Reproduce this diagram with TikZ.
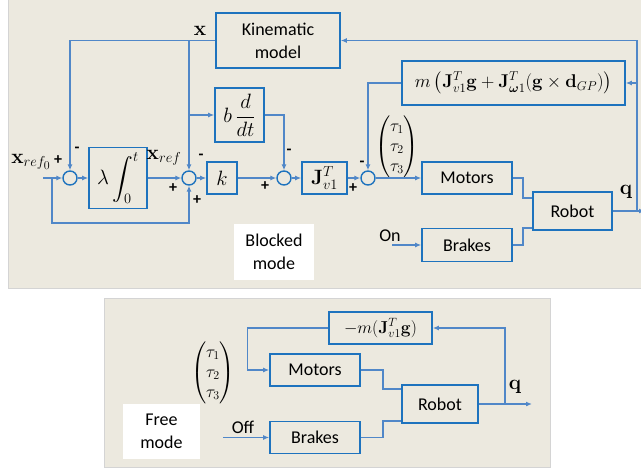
\documentclass[tikz,border=0pt]{standalone}
\usepackage{amsmath}
\usepackage[no-math]{fontspec}
\setmainfont{Carlito}
\DeclareMathSizes{18}{20.74}{14.4}{12}
\usetikzlibrary{arrows.meta,calc}
\definecolor{panelbg}{RGB}{236,233,223}
\definecolor{panelrule}{RGB}{212,212,212}
\definecolor{boxblue}{RGB}{30,115,190}
\definecolor{wireblue}{RGB}{80,135,200}

\begin{document}
\begin{tikzpicture}[x=1pt,y=-1pt,font=\fontsize{18}{23}\selectfont,
  blk/.style={draw=boxblue,line width=1.6pt,fill=panelbg,inner sep=0pt,align=center},
  sumc/.style={circle,draw=boxblue,line width=1.4pt,fill=panelbg,minimum size=14pt,inner sep=0pt},
  wire/.style={draw=wireblue,line width=1.4pt,-{Latex[length=6pt,width=5pt]}},
  link/.style={draw=wireblue,line width=1.4pt},
  tag/.style={inner sep=0pt},
  smallmath/.style={font=\fontsize{17.28}{20}\selectfont},
  sgn/.style={font=\fontsize{16}{16}\selectfont\bfseries,inner sep=0pt},
  note/.style={fill=white,align=center,inner sep=0pt}]
\useasboundingbox (0,0) rectangle (641,472);
\fill[white] (0,0) rectangle (641,472);
\filldraw[fill=panelbg,draw=panelrule] (8,-2) rectangle (645,288);
\filldraw[fill=panelbg,draw=panelrule] (104,298) rectangle (550,467);

\node[blk,minimum width=124pt,minimum height=55pt] (kin) at (278,40.5) {Kinematic\\model};
\node[blk,minimum width=49pt,minimum height=54pt] (bdt) at (239.5,115) {$b\,\dfrac{d}{dt}$};
\node[blk,minimum width=58pt,minimum height=61pt] (integ) at (118,178) {$\displaystyle\lambda\int_0^t$};
\node[blk,minimum width=30pt,minimum height=32pt] (kgain) at (222,178) {$k$};
\node[blk,minimum width=45pt,minimum height=32pt] (jac) at (324.5,178) {$\mathbf{J}_{v1}^T$};
\node[blk,minimum width=223pt,minimum height=44pt] (grav) at (513.5,83)
  {\scalebox{0.89}{$m\left(\mathbf{J}_{v1}^T\mathbf{g}+\mathbf{J}_{\boldsymbol{\omega}1}^T(\mathbf{g}\times\mathbf{d}_{GP})\right)$}};
\node[blk,minimum width=90pt,minimum height=32pt] (motA) at (467,178) {Motors};
\node[blk,minimum width=79pt,minimum height=38pt] (robA) at (572.5,211) {Robot};
\node[blk,minimum width=90pt,minimum height=33pt] (brkA) at (467,245) {Brakes};
\foreach \n/\x in {sA/70,sB/189,sC/284,sD/368}
  \node[sumc] (\n) at (\x,178) {};

\node[tag] (xlbl) at (200,31) {$\mathbf{x}$};
\node[tag] (xin) at (31,162) {$\mathbf{x}_{ref_0}$};
\node[tag] (xref) at (164,158) {$\mathbf{x}_{ref}$};
\node[tag,smallmath] (tauA) at (397,147) {$\begin{pmatrix}\tau_1\\ \tau_2\\ \tau_3\end{pmatrix}$};
\node[tag] (qA) at (626,192) {$\mathbf{q}$};
\node[tag] (onlbl) at (390,236) {On};
\node[note,minimum width=80pt,minimum height=56pt] (blocked) at (274,252) {Blocked\\mode};
\foreach \x/\y/\s [count=\i] in {58/160/+,77/150/-,201/157/-,173/188/+,197/200/+,
  289/152/-,265/186/+,362/164/-,353/188/+}
  \node[sgn] (sg\i) at (\x,\y) {\s};

\coordinate (inA) at (43,178);
\coordinate (splitA) at (52,178);
\coordinate (tapA) at (637,211);
\coordinate (outA) at (645,211);
\coordinate (onA) at (392,245);
\draw[wire] (inA) -- (sA);
\draw[wire] (sA) -- (integ);
\draw[wire] (integ) -- (sB);
\draw[wire] (sB) -- (kgain);
\draw[wire] (kgain) -- (sC);
\draw[wire] (sC) -- (jac);
\draw[wire] (jac) -- (sD);
\draw[wire] (sD) -- (motA);
\draw[wire] (kin.west) -| (sA.north);
\draw[wire] (kin.west -| sB) -- (sB.north);
\draw[wire] (sB |- bdt.west) -- (bdt.west);
\draw[wire] (bdt.east) -| (sC.north);
\draw[wire] (splitA) -- ++(0,45) -| (sB.south);
\draw[wire] (grav.west) -| (sD.north);
\draw[wire] (robA.east) -- (outA);
\draw[wire] (tapA) |- (kin.east);
\draw[wire] (tapA |- grav.east) -- (grav.east);
\draw[link] (motA.east) -- ++(10,0) |- ($(robA.west)+(0,-13)$);
\draw[link] (brkA.east) -- ++(10,0) |- ($(robA.west)+(0,17)$);
\draw[wire] (onA) -- (brkA.west);

\node[blk,smallmath,minimum width=103pt,minimum height=32pt] (gravB) at (380.5,328) {$-m(\mathbf{J}_{v1}^T\mathbf{g})$};
\node[blk,minimum width=90pt,minimum height=32pt] (motB) at (315,370) {Motors};
\node[blk,minimum width=76pt,minimum height=38pt] (robB) at (440,404) {Robot};
\node[blk,minimum width=90pt,minimum height=32pt] (brkB) at (315,437.5) {Brakes};
\node[note,minimum width=77pt,minimum height=55pt] (freeB) at (161.5,431.5) {Free\\mode};
\node[tag,smallmath] (tauB) at (213,373) {$\begin{pmatrix}\tau_1\\ \tau_2\\ \tau_3\end{pmatrix}$};
\node[tag] (offlbl) at (243,427) {Off};
\node[tag] (qB) at (515,387) {$\mathbf{q}$};

\coordinate (offB) at (223,437.5);
\coordinate (tapB) at (505,404);
\coordinate (outB) at (532,404);
\draw[wire] (offB) -- (brkB.west);
\draw[wire] (robB.east) -- (outB);
\draw[wire] (tapB) |- (gravB.east);
\draw[wire] (gravB.west) -- ++(-81,0) |- (motB.west);
\draw[link] (motB.east) -- ++(22,0) |- ($(robB.west)+(0,-15)$);
\draw[link] (brkB.east) -- ++(22,0) |- ($(robB.west)+(0,17)$);
\end{tikzpicture}
\end{document}
